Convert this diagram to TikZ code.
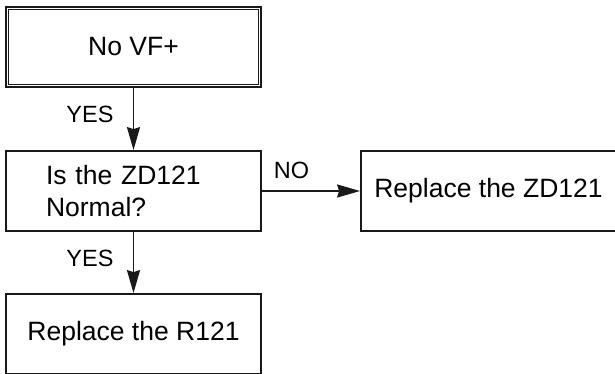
\documentclass[tikz,border=0pt]{standalone}
\usepackage{fontspec}
\setmainfont{Liberation Sans}
\usepackage{tikz}
\usetikzlibrary{arrows.meta}

\tikzset{
    box/.style={draw=black!90, line width=1.8pt, minimum width=255pt, minimum height=80pt,
        inner sep=0pt, font=\fontsize{26.5}{32}\selectfont},
    lbl/.style={inner sep=0pt, font=\fontsize{23.5}{28}\selectfont},
    arr/.style={draw=black!90, line width=1.8pt, -{Stealth[length=23pt,width=13pt,inset=2pt]}}
}

\begin{document}
\begin{tikzpicture}[x=1pt,y=-1pt]
        \useasboundingbox (0,0) rectangle (615,373);
        \clip (0,0) rectangle (615,373);

        \node[box] (b1) at (133.5,47) {No VF+};
        \node[box, align=left, text width=175pt, inner xsep=40pt] (b2) at (133.5,191) {Is the ZD121\\Normal?};
        \node[box] (b3) at (488.5,191) {Replace the ZD121};
        \node[box] (b4) at (133.5,334) {Replace the R121};

        % inner line of the double frame
        \draw[black!90, line width=0.9pt] ([shift={(3.5,3.5)}]b1.north west) rectangle ([shift={(-3.5,-3.5)}]b1.south east);

        \node[lbl] (y1) at (90,114) {YES};
        \node[lbl] (y2) at (90,258) {YES};
        \node[lbl] (n1) at (291.5,170) {NO};

        \draw[arr] (b1) -- (b2);
        \draw[arr] (b2) -- (b4);
        \draw[arr] (b2) -- (b3);
    \end{tikzpicture}
\end{document}
